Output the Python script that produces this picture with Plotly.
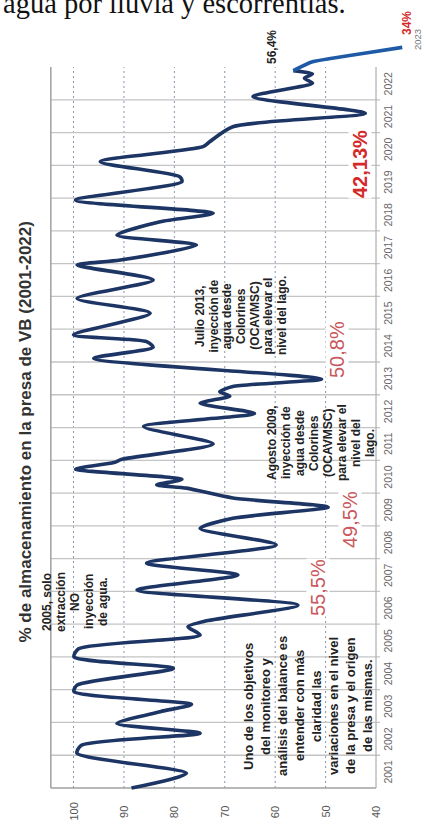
import plotly.graph_objects as go

# ---------------- data ----------------
dates = [2001.00, 2001.45, 2002.06, 2002.30, 2002.67, 2002.97, 2003.33, 2003.55, 2003.94, 2004.14,
         2004.65, 2005.00, 2005.25, 2005.67, 2005.92, 2006.10, 2006.58, 2007.04, 2007.50, 2007.86,
         2008.42, 2008.92, 2009.23, 2009.57, 2009.85, 2010.15, 2010.25, 2010.42, 2010.73, 2010.93,
         2011.03, 2011.50, 2012.03, 2012.43, 2012.74, 2012.96, 2013.09, 2013.25, 2013.48, 2014.11,
         2014.45, 2014.62, 2014.83, 2015.49, 2015.94, 2016.50, 2016.96, 2017.11, 2017.57, 2017.87,
         2018.28, 2018.54, 2018.94, 2019.50, 2019.65, 2020.11, 2020.57, 2020.72, 2021.18, 2021.59,
         2022.10, 2022.51, 2022.66, 2022.79, 2022.89]
pct = [88.5, 77.6, 99.3, 98.5, 74.9, 91.4, 82.8, 76.6, 99.9, 99.3,
       80.2, 99.9, 99.0, 74.9, 77.3, 73.6, 55.5, 87.4, 67.4, 85.5,
       59.8, 74.9, 68.4, 49.5, 68.4, 77.6, 83.5, 78.5, 99.6, 92.0,
       90.4, 72.3, 86.1, 64.1, 74.9, 69.0, 71.0, 68.4, 50.8, 96.0,
       84.2, 85.5, 100.0, 84.8, 99.3, 84.2, 99.3, 90.7, 75.6, 91.4,
       82.8, 72.3, 99.6, 78.5, 78.9, 94.7, 74.3, 73.0, 68.4, 42.13,
       64.4, 52.6, 54.2, 52.6, 56.4]
recent_dates = [2022.89, 2023.16, 2023.27, 2023.43, 2023.60]
recent_pct = [56.4, 52.6, 48.7, 42.0, 34.8]

years = list(range(2001, 2023))
pct_ticks = [100, 90, 80, 70, 60, 50, 40]
dotted_levels = [100, 90, 80, 70, 60, 50]

# ---------------- geometry helpers (rotated layout) ----------------
W, H = 422, 825
X_RANGE = [114.58, 30.88]          # % axis runs right-to-left
Y_RANGE = [1999.871, 2025.046]     # time runs bottom-to-top
V_LEFT, V_AXIS, V_TICKEND = 104.5, 40, 39.2
T0, T1 = 2001, 2023

def px(x):
    return x / W

def py(y):
    return 1 - y / H

FONT = "Liberation Sans, Arial, sans-serif"

fig = go.Figure()

fig.add_trace(go.Scatter(x=pct, y=dates, mode="lines",
                         line=dict(color="#1c3564", width=3.6, shape="spline", smoothing=0.7),
                         hoverinfo="skip"))
fig.add_trace(go.Scatter(x=recent_pct, y=recent_dates, mode="lines",
                         line=dict(color="#1f5aa6", width=3.6, shape="spline", smoothing=0.7),
                         hoverinfo="skip"))

shapes = []
# dotted value grid
for v in dotted_levels:
    shapes.append(dict(type="line", xref="x", yref="y", x0=v, x1=v, y0=T0, y1=T1,
                       line=dict(color="#8596ad", width=1, dash="2px,3px"), layer="below"))
# solid year grid
for yr in years[1:]:
    shapes.append(dict(type="line", xref="x", yref="y", x0=V_LEFT, x1=V_TICKEND, y0=yr, y1=yr,
                       line=dict(color="#c4c4c4", width=1.3), layer="below"))
# frame
shapes.append(dict(type="line", xref="x", yref="y", x0=V_LEFT, x1=V_AXIS, y0=T0, y1=T0,
                   line=dict(color="#a0a0a0", width=1.5), layer="below"))
shapes.append(dict(type="line", xref="x", yref="y", x0=V_LEFT, x1=V_LEFT, y0=T0, y1=T1,
                   line=dict(color="#a0a0a0", width=1.5), layer="below"))
shapes.append(dict(type="line", xref="x", yref="y", x0=V_AXIS, x1=V_AXIS, y0=T0, y1=T1,
                   line=dict(color="#b4b4b4", width=1.3), layer="below"))

# white boxes behind text blocks
for (x0, y0, x1, y1) in [(36, 562, 113, 648), (238, 628, 371, 797),
                         (192, 266, 290, 368), (264, 392, 372, 494)]:
    shapes.append(dict(type="rect", xref="paper", yref="paper",
                       x0=px(x0), x1=px(x1), y0=py(y1), y1=py(y0),
                       line=dict(width=0), fillcolor="white", layer="below"))

ann = []

def text(t, x, y, size, color="#222", bold=False, bg=None, family=FONT, angle=-90):
    a = dict(text=("<b>%s</b>" % t) if bold else t, xref="paper", yref="paper",
             x=px(x), y=py(y), xanchor="center", yanchor="middle", showarrow=False,
             textangle=angle, font=dict(family=family, size=size, color=color), borderpad=0)
    if bg:
        a["bgcolor"] = bg
    ann.append(a)

def block(lines, xc, yc, spacing, size, bold=True):
    n = len(lines)
    for i, ln in enumerate(lines):
        text(ln, xc + (i - (n - 1) / 2) * spacing, yc, size, bold=bold)

# top page text (cut off)
ann.append(dict(text="agua por lluvia y escorrentías.", xref="paper", yref="paper",
                x=px(1), y=py(21), xanchor="left", yanchor="bottom", showarrow=False,
                font=dict(family="Liberation Serif, Times New Roman, serif", size=28.5, color="#111")))

# title
text("% de almacenamiento en la presa de VB (2001-2022)", 24.5, 432, 17, color="#333", bold=True)

# year tick labels
for yr in years:
    ann.append(dict(text=str(yr), xref="paper", yref="y", x=px(388), y=yr + 0.5,
                    xanchor="center", yanchor="middle", showarrow=False, textangle=-90,
                    font=dict(family=FONT, size=10.5, color="#666")))
text("2023", 418, 40, 9.5, color="#777")

# percent tick labels
for v in pct_ticks:
    ann.append(dict(text=str(v), xref="x", yref="paper", x=v, y=py(812),
                    xanchor="center", yanchor="middle", showarrow=False, textangle=-90,
                    font=dict(family=FONT, size=11, color="#555")))

# value call-outs
PINK = "#c9575c"
RED = "#d42a2a"
text("55,5%", 318, 588, 20, color=PINK, bg="white")
text("49,5%", 350, 520, 20, color=PINK, bg="white")
text("50,8%", 337, 350, 20, color=PINK, bg="white")
text("42,13%", 360, 164, 20, color=RED, bold=True, bg="white")
text("56,4%", 272, 47, 12, color="#222", bold=True)
text("34%", 407, 23, 12, color=RED, bold=True)

# note blocks
block(["2005, solo", "extracción", "NO", "inyección", "de agua."], 75, 602, 14, 12)
block(["Uno de los objetivos", "del monitoreo y", "análisis del balance es", "entender con más",
       "claridad las", "variaciones en el nivel", "de la presa y el origen", "de las mismas."],
      307.5, 706, 17, 13)
block(["Agosto 2009,", "inyección de", "agua desde", "Colorines", "(OCAVMSC)",
       "para elevar el", "nivel del", "lago."], 321, 443, 14, 12)
block(["Julio 2013,", "inyección de", "agua desde", "Colorines", "(OCAVMSC)",
       "para elevar el", "nivel del lago."], 241, 316, 13.7, 12)

fig.update_layout(width=W, height=H, autosize=False,
                  margin=dict(l=0, r=0, t=0, b=0, pad=0),
                  paper_bgcolor="white", plot_bgcolor="white", showlegend=False,
                  xaxis=dict(range=X_RANGE, visible=False, fixedrange=True),
                  yaxis=dict(range=Y_RANGE, visible=False, fixedrange=True),
                  shapes=shapes, annotations=ann)

fig.write_html("out.html", config={"displayModeBar": False},
               post_script="document.body.style.margin='0';document.body.style.overflow='hidden';")
